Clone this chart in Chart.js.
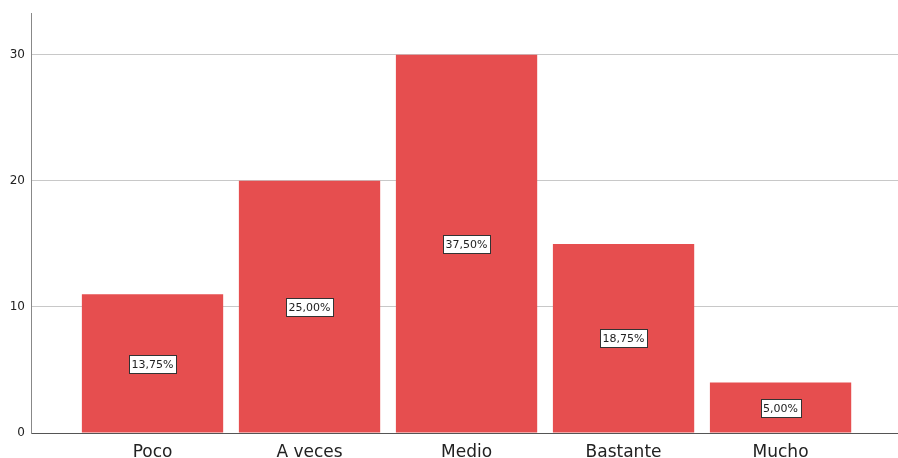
<!DOCTYPE html>
<html>
<head>
<meta charset="utf-8">
<script src="https://cdn.jsdelivr.net/npm/chart.js@4"></script>
<style>
  html, body { margin: 0; padding: 0; background: #fff; }
  #wrap { width: 898px; height: 458px; }
</style>
</head>
<body>
<div id="wrap"><canvas id="chart"></canvas></div>
<script>
// Datos del gráfico
const categorias = ['Poco', 'A veces', 'Medio', 'Bastante', 'Mucho'];
const frecuencias = [11, 20, 30, 15, 4];
const porcentajes = ['13,75%', '25,00%', '37,50%', '18,75%', '5,00%'];
const ticksY = [0, 10, 20, 30];

const fuente = "'DejaVu Sans', 'Liberation Sans', sans-serif";

// Etiquetas de porcentaje en cajas blancas en el centro de cada barra
const etiquetasPlugin = {
    id: 'etiquetas',
    afterDatasetsDraw(chart) {
        const ctx = chart.ctx;
        const meta = chart.getDatasetMeta(0);
        const y = chart.scales.y;
        ctx.save();
        ctx.font = '11px ' + fuente;
        ctx.textAlign = 'center';
        ctx.textBaseline = 'middle';
        meta.data.forEach(function(bar, i) {
            const cx = bar.x;
            const cy = y.getPixelForValue(frecuencias[i] / 2);
            const w = Math.round(ctx.measureText(porcentajes[i]).width + 5);
            const h = 18;
            const x0 = Math.round(cx - w / 2) + 0.5;
            const y0 = Math.round(cy - h / 2) + 0.5;
            ctx.fillStyle = '#ffffff';
            ctx.fillRect(x0, y0, w, h);
            ctx.strokeStyle = '#333333';
            ctx.lineWidth = 1;
            ctx.strokeRect(x0, y0, w, h);
            ctx.fillStyle = '#222222';
            ctx.fillText(porcentajes[i], cx, cy + 1);
        });
        ctx.restore();
    }
};

new Chart(document.getElementById('chart'), {
    type: 'bar',
    data: {
        datasets: [{
            data: frecuencias.map(function(v, i) { return { x: i, y: v }; }),
            backgroundColor: '#e64e4f',
            borderWidth: 0,
            barPercentage: 0.9,
            categoryPercentage: 1
        }]
    },
    options: {
        responsive: true,
        maintainAspectRatio: false,
        animation: false,
        layout: { padding: { top: 12, left: 0, right: 0, bottom: 0 } },
        plugins: {
            legend: { display: false },
            tooltip: { enabled: false }
        },
        scales: {
            x: {
                type: 'linear',
                offset: false,
                min: -0.774,
                max: 4.748,
                grid: { display: false },
                border: { display: true, color: '#555555', width: 1 },
                afterBuildTicks: function(scale) {
                    scale.ticks = categorias.map(function(c, i) { return { value: i }; });
                },
                afterFit: function(scale) { scale.height = 25; },
                ticks: {
                    autoSkip: false,
                    maxRotation: 0,
                    padding: 1,
                    color: '#222222',
                    font: { family: fuente, size: 17 },
                    callback: function(v) { return categorias[v]; }
                }
            },
            y: {
                min: 0,
                max: 33.3,
                grid: { color: '#c8c8c8', drawTicks: false },
                border: { display: true, color: '#888888', width: 1 },
                afterBuildTicks: function(scale) {
                    scale.ticks = ticksY.map(function(v) { return { value: v }; });
                },
                afterFit: function(scale) { scale.width = 31; },
                ticks: {
                    padding: 6,
                    color: '#222222',
                    font: { family: fuente, size: 12 }
                }
            }
        }
    },
    plugins: [etiquetasPlugin]
});
</script>
</body>
</html>
